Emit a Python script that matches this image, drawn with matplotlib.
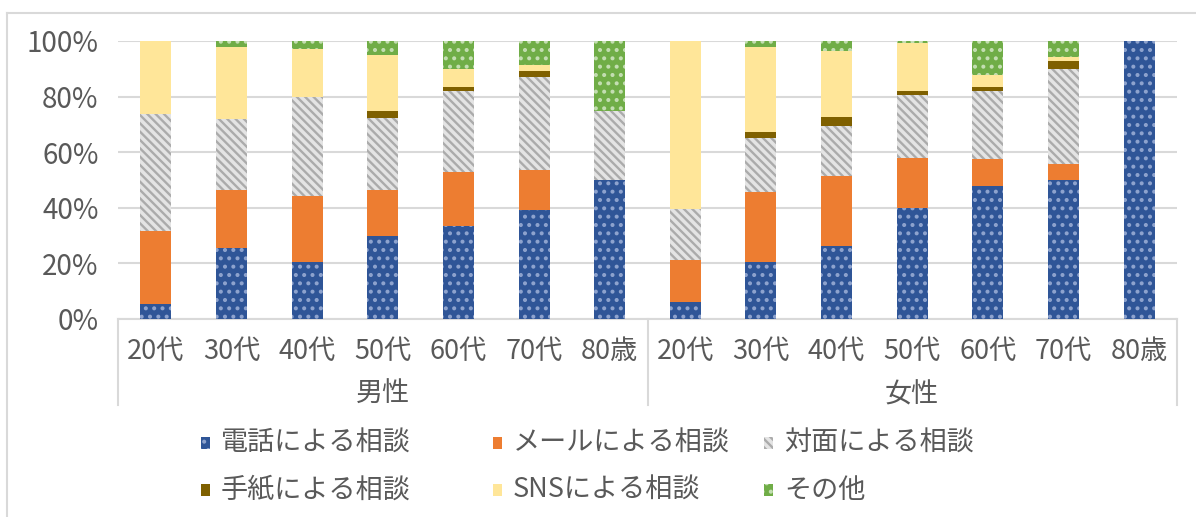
import matplotlib
matplotlib.use("Agg")
from matplotlib import pyplot as plt
from matplotlib.patches import Rectangle
from matplotlib.lines import Line2D

plt.rcParams['font.family'] = ['Noto Sans CJK JP', 'DejaVu Sans']
plt.rcParams['hatch.linewidth'] = 1.7

# data (percent)
ages = ['20代', '30代', '40代', '50代', '60代', '70代', '80歳']
groups = ['男性', '女性']
series_names = ['電話による相談', 'メールによる相談', '対面による相談',
                '手紙による相談', 'SNSによる相談', 'その他']

phone = [5.3, 25.5, 20.5, 30.0, 33.5, 39.2, 50.0,
         6.1, 20.5, 26.3, 39.9, 47.8, 50.0, 100.0]
mail = [26.3, 20.9, 23.7, 16.4, 19.4, 14.4, 0.0,
        15.2, 25.2, 25.1, 18.0, 9.8, 5.8, 0.0]
face = [42.1, 25.5, 35.7, 26.0, 29.1, 33.4, 25.0,
        18.2, 19.4, 18.0, 22.7, 24.4, 34.1, 0.0]
letter = [0.0, 0.0, 0.0, 2.4, 1.5, 2.2, 0.0,
          0.0, 2.2, 3.3, 1.4, 1.5, 2.9, 0.0]
sns = [26.3, 25.9, 17.3, 20.2, 6.4, 2.2, 0.0,
       60.5, 30.5, 23.7, 17.4, 4.3, 1.4, 0.0]
other = [0.0, 2.2, 2.8, 5.0, 10.1, 8.6, 25.0,
         0.0, 2.2, 3.6, 0.6, 12.2, 5.8, 0.0]

# styles: (fill colour, hatch colour, hatch)
styles = [
    ('#2F5597', '#8EA3CE', '..'),
    ('#ED7D31', '#ED7D31', ''),
    ('#E4E4E4', '#ABABAB', '\\\\\\\\'),
    ('#7F6000', '#7F6000', ''),
    ('#FFE699', '#FFE699', ''),
    ('#70AD47', '#C4DEB2', '..'),
]

txt = '#595959'
grid_c = '#D9D9D9'
fs = 19.5

fig = plt.figure(figsize=(11.96, 5.17), dpi=100)
ax = fig.add_axes([118 / 1196, 1 - 319 / 517, (1177 - 118) / 1196, (319 - 41) / 517])

labels = ages + ages
x = list(range(len(labels)))
bottom = [0.0] * len(labels)
for vals, (fc, hc, h) in zip([phone, mail, face, letter, sns, other], styles):
    ax.bar(x, vals, width=0.41, bottom=bottom, color=fc, edgecolor=hc,
           hatch=h, linewidth=0, zorder=3)
    bottom = [b + v for b, v in zip(bottom, vals)]

ax.set_xlim(-0.5, len(labels) - 0.5)
ax.set_ylim(0, 100)
ax.set_yticks([0, 20, 40, 60, 80, 100])
ax.set_yticklabels([f'{t}%' for t in [0, 20, 40, 60, 80, 100]])
ax.tick_params(axis='y', length=0, pad=14, labelsize=20, labelcolor=txt)
ax.set_xticks([])
ax.yaxis.grid(True, color=grid_c, linewidth=1.5, zorder=0)
for s in ['top', 'right', 'left']:
    ax.spines[s].set_visible(False)
ax.spines['bottom'].set_color(grid_c)
ax.spines['bottom'].set_linewidth(1.5)

# category axis labels
tr = ax.get_xaxis_transform()
for i, lab in enumerate(labels):
    ax.text(i, -0.117, lab, transform=tr, ha='center', va='center',
            fontsize=fs, color=txt)
n = len(ages)
for g, name in enumerate(groups):
    ax.text(g * n + (n - 1) / 2, -0.272, name, transform=tr, ha='center',
            va='center', fontsize=fs, color=txt)
for xs in [-0.5, n - 0.5, 2 * n - 0.5]:
    ax.plot([xs, xs], [0, -0.309], transform=tr, color=grid_c,
            linewidth=1.5, clip_on=False)

# legend
col_x = [201, 493, 764]
row_y = [443, 490]
for i, (name, (fc, hc, h)) in enumerate(zip(series_names, styles)):
    cx = col_x[i % 3]
    cy = row_y[i // 3]
    fig.add_artist(Rectangle(((cx) / 1196, 1 - (cy + 6) / 517), 9 / 1196,
                             12 / 517, transform=fig.transFigure,
                             facecolor=fc, edgecolor=hc, hatch=h, linewidth=0))
    fig.text((cx + 20) / 1196, 1 - cy / 517, name, ha='left', va='center',
             fontsize=fs, color=txt)

# chart border
fig.add_artist(Line2D([7 / 1196, 7 / 1196], [0, 1 - 13 / 517],
                      transform=fig.transFigure, color=grid_c, linewidth=1.5))
fig.add_artist(Line2D([7 / 1196, 1], [1 - 13 / 517, 1 - 13 / 517],
                      transform=fig.transFigure, color=grid_c, linewidth=1.5))

fig.savefig('out.png', dpi=100)
